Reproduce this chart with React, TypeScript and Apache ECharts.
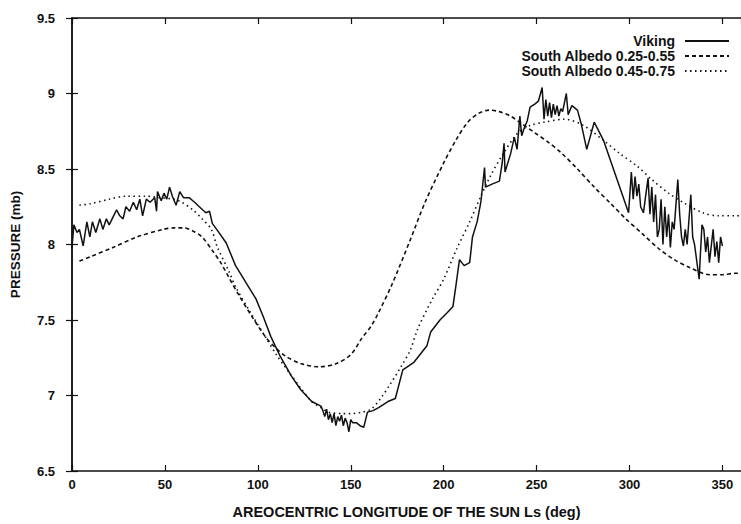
import React, { useEffect, useRef } from "react";
import * as echarts from "echarts";

const seriesNames = ["Viking", "South Albedo 0.25-0.55", "South Albedo 0.45-0.75"];

const xTickLabels = ["0", "50", "100", "150", "200", "250", "300", "350"];
const yTickLabels = ["6.5", "7", "7.5", "8", "8.5", "9", "9.5"];

// Viking lander observed pressure [Ls, mb]
const vikingData: [number, number][] = [
  [0, 7.98], [1, 8.13], [2.7, 8.08], [4, 8.1], [6, 7.99], [8, 8.15], [9.6, 8.05], [11, 8.15],
  [12.8, 8.08], [15, 8.17], [16.6, 8.1], [18.5, 8.17], [20, 8.13], [22, 8.18], [24, 8.23],
  [25.7, 8.19], [27.5, 8.17], [29, 8.25], [31, 8.22], [33, 8.28], [34.8, 8.23], [36.5, 8.3],
  [38, 8.19], [40, 8.3], [42, 8.28], [44.5, 8.31], [45.5, 8.22], [46, 8.35], [48, 8.29],
  [49.5, 8.34], [51, 8.3], [52.5, 8.38], [54, 8.32], [56, 8.26], [58, 8.35], [60, 8.31],
  [63, 8.31], [66, 8.28], [68.5, 8.25], [72, 8.21], [74, 8.22], [75.5, 8.14], [79, 8.08],
  [83, 8.01], [88, 7.86], [91.5, 7.79], [95, 7.72], [99, 7.64], [103, 7.52], [107, 7.39],
  [112, 7.26], [118, 7.13], [123, 7.04], [129, 6.96], [134, 6.93], [135, 6.9], [136, 6.86],
  [137, 6.91], [138, 6.84], [139, 6.88], [140, 6.82], [141, 6.88], [142, 6.8], [143, 6.86],
  [144, 6.83], [145, 6.87], [146, 6.8], [147, 6.85], [148, 6.82], [149, 6.76], [150, 6.84],
  [151, 6.82], [153, 6.82], [155, 6.8], [157, 6.79], [159, 6.89], [162, 6.9], [165, 6.92],
  [170, 6.96], [174, 6.98], [178, 7.17], [184, 7.22], [191, 7.33], [193, 7.42], [198, 7.5],
  [202, 7.55], [205, 7.59], [206.5, 7.72], [208.5, 7.9], [211, 7.86], [214, 7.88],
  [215.5, 8.05], [218, 8.15], [220, 8.28], [222, 8.51], [222.5, 8.38], [226, 8.4], [230, 8.42],
  [231.5, 8.54], [232.5, 8.67], [233, 8.48], [236, 8.6], [238, 8.71], [239.5, 8.63],
  [241, 8.85], [242, 8.72], [243, 8.76], [245, 8.82], [246.5, 8.91], [249, 8.93], [251, 8.95],
  [253, 9.04], [254, 8.83], [255, 8.96], [256, 8.85], [257, 8.94], [258, 8.84], [259, 8.93],
  [260, 8.86], [261, 8.92], [262, 8.85], [263, 8.9], [264, 8.88], [266, 9.0], [267, 8.86],
  [269, 8.92], [272, 8.89], [274, 8.8], [277, 8.63], [281, 8.81], [286, 8.69], [299.5, 8.21],
  [301, 8.48], [302, 8.3], [303, 8.45], [304, 8.32], [305, 8.4], [306, 8.25], [307.5, 8.21],
  [309, 8.35], [310, 8.44], [311, 8.2], [312, 8.38], [313, 8.15], [314, 8.33], [315, 8.05],
  [316, 8.1], [317, 8.3], [318, 8.0], [319, 8.25], [320, 8.05], [321, 8.2], [322, 7.98],
  [323, 8.15], [324, 8.1], [326, 8.43], [327, 8.2], [328, 8.05], [329, 7.99], [330, 8.1],
  [331, 8.0], [333, 8.33], [334, 8.05], [335, 8.0], [337.5, 7.77], [338, 7.9], [339, 8.13],
  [340, 8.1], [341, 7.95], [342, 8.05], [343, 7.88], [345, 8.1], [346, 7.92], [347, 8.02],
  [348, 7.88], [349, 8.05], [350, 7.99],
];

// Model, south cap albedo 0.25-0.55 (dashed)
const albedoLowData: [number, number][] = [
  [4, 7.89], [10, 7.92], [22, 7.98], [35, 8.05], [49, 8.1], [55, 8.11], [60, 8.11], [65, 8.09],
  [70, 8.05], [75.5, 7.96], [80, 7.88], [84.5, 7.78], [90, 7.66], [97, 7.52], [104, 7.39],
  [110, 7.31], [115, 7.26], [123.5, 7.21], [133, 7.19], [142, 7.21], [150, 7.27], [156, 7.38],
  [161, 7.46], [165, 7.55], [172, 7.73], [182, 8.03], [190, 8.28], [200, 8.54], [207, 8.7],
  [213, 8.81], [219, 8.87], [224.5, 8.89], [230, 8.88], [236, 8.85], [242, 8.8], [249, 8.74],
  [256, 8.68], [263, 8.61], [272, 8.5], [281, 8.38], [290, 8.27], [298, 8.17], [307, 8.07],
  [316, 7.97], [324, 7.9], [332, 7.85], [343, 7.8], [350, 7.8], [357, 7.81], [360, 7.81],
];

// Model, south cap albedo 0.45-0.75 (dotted)
const albedoHighData: [number, number][] = [
  [4, 8.26], [10, 8.27], [20, 8.3], [29, 8.32], [40, 8.32], [47, 8.31], [55, 8.3], [59, 8.28],
  [65, 8.23], [70, 8.17], [75, 8.1], [78, 7.99], [84.5, 7.82], [88, 7.72], [96, 7.55],
  [104, 7.39], [110, 7.27], [117, 7.15], [123, 7.05], [129, 6.96], [134, 6.92], [138, 6.89],
  [145, 6.88], [150, 6.88], [156, 6.89], [161, 6.91], [166, 6.98], [171, 7.07], [177, 7.19],
  [182, 7.3], [186, 7.44], [194, 7.64], [200, 7.77], [207, 7.97], [214, 8.15], [220, 8.32],
  [225, 8.45], [232, 8.6], [240, 8.74], [247, 8.79], [254, 8.81], [265, 8.83], [275, 8.79],
  [286, 8.69], [295, 8.6], [304, 8.52], [312, 8.43], [321, 8.34], [330, 8.27], [339.5, 8.21],
  [348, 8.19], [357, 8.19], [360, 8.19],
];

const INK = "#111";
const FONT = "'Liberation Sans', Arial, sans-serif";

export default function App() {
  const ref = useRef<HTMLDivElement>(null);

  useEffect(() => {
    if (!ref.current) return;
    const chart = echarts.init(ref.current, undefined, { renderer: "svg" });

    const labelStyle = { color: INK, fontFamily: FONT, fontSize: 13, fontWeight: "bold" as const };

    const baseX = {
      type: "value" as const,
      min: 0,
      max: 360,
      interval: 50,
      splitLine: { show: false },
      axisLine: { show: true, lineStyle: { color: INK, width: 1.5 } },
      axisTick: { show: true, inside: true, length: 6, lineStyle: { color: INK, width: 1.2 } },
    };
    const baseY = {
      type: "value" as const,
      min: 6.5,
      max: 9.5,
      interval: 0.5,
      splitLine: { show: false },
      axisLine: { show: true, lineStyle: { color: INK, width: 1.5 } },
      axisTick: { show: true, inside: true, length: 6, lineStyle: { color: INK, width: 1.2 } },
    };

    chart.setOption({
      animation: false,
      backgroundColor: "#fff",
      grid: { left: 72, right: -4, top: 18, bottom: 52, containLabel: false },
      legend: {
        orient: "vertical",
        right: 11,
        top: 34,
        padding: 0,
        align: "right",
        itemWidth: 44,
        itemHeight: 12,
        itemGap: 1,
        data: seriesNames,
        itemStyle: { opacity: 0 },
        textStyle: { ...labelStyle, fontSize: 14, padding: [0, 5, 0, 0] },
      },
      xAxis: [
        {
          ...baseX,
          position: "bottom",
          name: "AREOCENTRIC LONGITUDE OF THE SUN Ls (deg)",
          nameLocation: "middle",
          nameGap: 33,
          nameTextStyle: { ...labelStyle, fontSize: 14.5 },
          axisLabel: {
            ...labelStyle,
            margin: 7,
            showMaxLabel: false,
            formatter: (v: number) => {
              const i = Math.round(v / 50);
              return v % 50 === 0 && i < xTickLabels.length ? xTickLabels[i] : "";
            },
          },
        },
        { ...baseX, position: "top", axisLabel: { show: false } },
      ],
      yAxis: [
        {
          ...baseY,
          position: "left",
          name: "PRESSURE (mb)",
          nameLocation: "middle",
          nameGap: 50,
          nameTextStyle: { ...labelStyle, fontSize: 13.5 },
          axisLabel: {
            ...labelStyle,
            margin: 17,
            formatter: (v: number) => {
              const i = Math.round((v - 6.5) / 0.5);
              return yTickLabels[i] ?? "";
            },
          },
        },
        { ...baseY, position: "right", axisLabel: { show: false } },
      ],
      series: [
        {
          name: seriesNames[0],
          type: "line",
          data: vikingData,
          symbol: "none",
          lineStyle: { color: INK, width: 1.5, type: "solid" },
          itemStyle: { color: INK },
          z: 3,
        },
        {
          name: seriesNames[1],
          type: "line",
          data: albedoLowData,
          symbol: "none",
          smooth: 0.3,
          lineStyle: { color: INK, width: 1.6, type: [4, 3] },
          itemStyle: { color: INK },
        },
        {
          name: seriesNames[2],
          type: "line",
          data: albedoHighData,
          symbol: "none",
          smooth: 0.3,
          lineStyle: { color: INK, width: 1.6, type: [1.5, 3.5] },
          itemStyle: { color: INK },
        },
      ],
    });

    return () => chart.dispose();
  }, []);

  return (
    <div
      ref={ref}
      style={{ position: "fixed", left: 0, top: 0, width: 741, height: 524, background: "#fff" }}
    />
  );
}
